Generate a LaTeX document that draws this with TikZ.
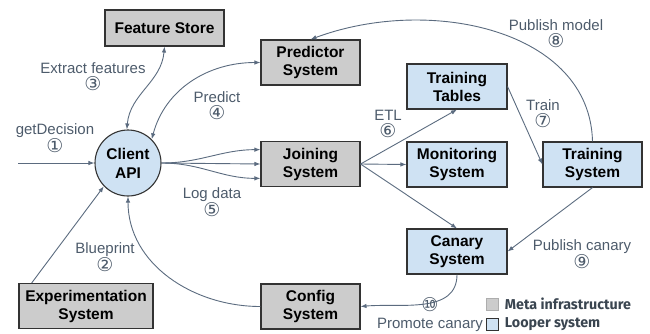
\documentclass[tikz,border=0pt]{standalone}
\usepackage{fontspec}
\setmainfont{Liberation Sans}
\newfontfamily\numfont{DejaVu Sans}
\newfontfamily\legendfont{Fira Sans}
\usetikzlibrary{arrows.meta, positioning}

\definecolor{metagray}{HTML}{CCCCCC}
\definecolor{looperblue}{HTML}{CFE2F3}
\definecolor{boxline}{HTML}{333333}
\definecolor{flowcol}{HTML}{5B6B7F}
\definecolor{lblcol}{HTML}{4D5B6B}
\definecolor{legcol}{HTML}{3A4550}

\newcommand{\stepnum}[1]{{\numfont\fontsize{19}{17}\selectfont #1}}

\begin{document}
\begin{tikzpicture}[x=1pt, y=-1pt, >={Latex[length=6pt,width=4.5pt]},
  meta/.style={draw=boxline, line width=1.1pt, fill=metagray, minimum width=99pt,
    minimum height=45pt, align=center, inner sep=2pt,
    font=\fontsize{15.5}{18}\selectfont\bfseries},
  looper/.style={meta, fill=looperblue, minimum width=100pt},
  flow/.style={->, draw=flowcol, line width=0.9pt},
  lbl/.style={text=lblcol, align=center, font=\fontsize{15}{17}\selectfont},
  legbox/.style={minimum size=12pt, inner sep=0pt, line width=0.8pt},
  legtext/.style={text=legcol, font=\legendfont\fontsize{14.3}{15}\selectfont\bfseries}]
  \useasboundingbox (0,0) rectangle (650,333);
  % Meta infrastructure
  \node[meta, minimum width=119pt, minimum height=36pt] (featstore) at (164.5,28) {Feature Store};
  \node[meta] (predictor) at (310.5,62.5) {Predictor\\System};
  \node[meta] (joining) at (310.5,164) {Joining\\System};
  \node[meta] (config) at (310.5,306.5) {Config\\System};
  \node[meta, minimum width=134pt] (experiment) at (86,306) {Experimentation\\System};
  % Looper system
  \node[looper] (traintables) at (457,86.5) {Training\\Tables};
  \node[looper] (monitoring) at (457,164.5) {Monitoring\\System};
  \node[looper, minimum width=99pt] (trainsys) at (592.5,164.5) {Training\\System};
  \node[looper] (canary) at (457,251.5) {Canary\\System};
  % Client API
  \node[circle, draw=boxline, line width=1.1pt, fill=looperblue, minimum size=66pt,
    inner sep=0pt, align=center, font=\fontsize{15.5}{19}\selectfont\bfseries] (client) at (128,163) {Client\\API};
  % Appel getDecision
  \coordinate (callin) at (18,163);
  \draw[flow] (callin) -- (client.west);
  \node[lbl] (lbldecision) at (55,138) {getDecision\\\stepnum{①}};
  % Blueprint
  \draw[flow] (experiment.157) -- (client.224);
  \node[lbl] (lblblueprint) at (105,257) {Blueprint\\\stepnum{②}};
  % Features
  \draw[flow, <->] (client.92) to[out=85, in=-95] (featstore.south);
  \node[lbl] (lblfeatures) at (93,77) {Extract features\\\stepnum{③}};
  % Predict
  \draw[flow, <->] (client.45) to[out=75, in=180] (predictor.west);
  \node[lbl] (lblpredict) at (217,106) {Predict\\\stepnum{④}};
  % Log data
  \draw[flow] (client.east) to[out=0, in=180] (joining.164);
  \draw[flow] (client.east) -- (joining.west);
  \draw[flow] (client.east) to[out=0, in=180] (joining.196);
  \node[lbl] (lbllog) at (212,202) {Log data\\\stepnum{⑤}};
  % ETL
  \draw[flow] (joining.east) -- (traintables.south);
  \draw[flow] (joining.east) -- (monitoring.west);
  \draw[flow] (joining.east) -- (canary.north);
  \node[lbl] (lbletl) at (388,124) {ETL\\\stepnum{⑥}};
  % Train
  \draw[flow] (traintables.east) -- (trainsys.west);
  \node[lbl] (lbltrain) at (543,114) {Train\\\stepnum{⑦}};
  % Publish model
  \draw[flow] (trainsys.north) .. controls (590,30) and (430,-5) .. (predictor.north);
  \node[lbl] (lblpublish) at (556,34) {Publish model\\\stepnum{⑧}};
  % Publish canary
  \draw[flow] (trainsys.south) -- (canary.east);
  \node[lbl] (lblcanary) at (582,254) {Publish canary\\\stepnum{⑨}};
  % Promote canary
  \draw[flow] (canary.south) to[out=-90, in=5] (config.east);
  \draw[flow] (config.west) to[out=180, in=-90] (client.south);
  \node[lbl] (lblpromote) at (430,315) {\stepnum{⑩}\\Promote canary};
  % Legende
  \node[legbox, fill=metagray, draw=metagray!85!black] (legmeta) at (492,304) {};
  \node[legbox, fill=looperblue, draw=boxline] (leglooper) at (492,324) {};
  \node[legtext, right=3pt of legmeta] (legmetatext) {Meta infrastructure};
  \node[legtext, right=3pt of leglooper] (leglooptext) {Looper system};
\end{tikzpicture}
\end{document}
